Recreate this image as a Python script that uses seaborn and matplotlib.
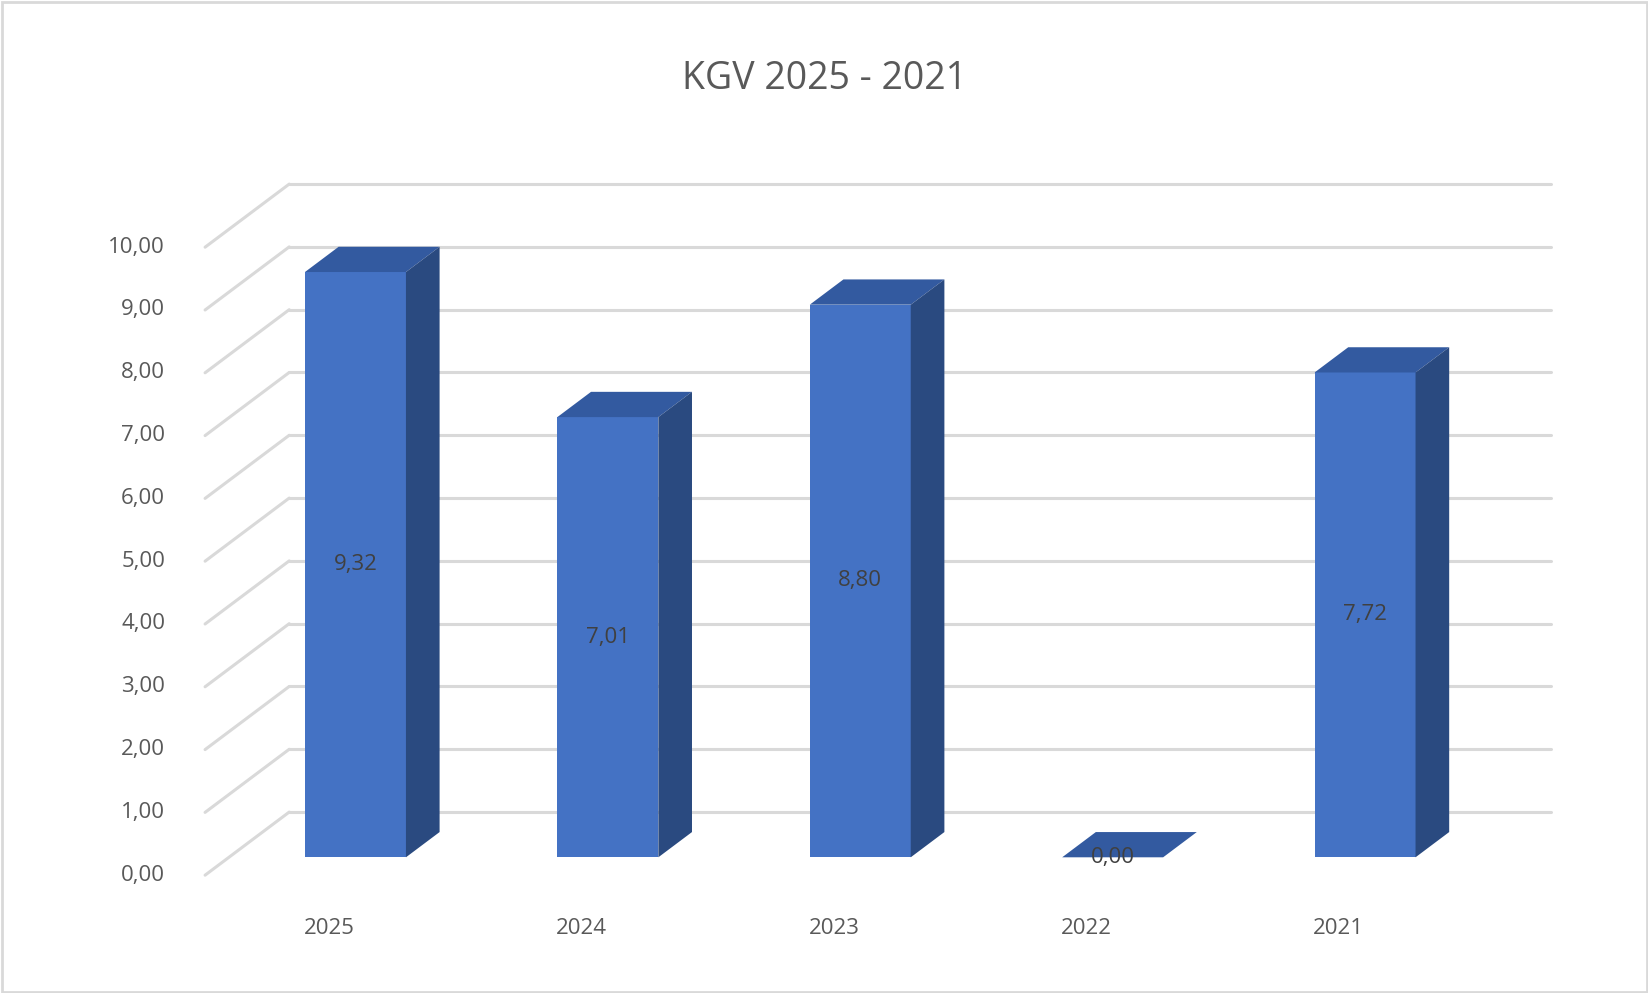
import matplotlib
matplotlib.use("Agg")
import matplotlib.pyplot as plt
import seaborn as sns
import pandas as pd
from matplotlib.patches import Polygon, Rectangle

years = ["2025", "2024", "2023", "2022", "2021"]
values = [9.32, 7.01, 8.80, 0.00, 7.72]
ytick_vals = [0, 1, 2, 3, 4, 5, 6, 7, 8, 9, 10]
title = "KGV 2025 - 2021"

sns.set_theme(style="white")
plt.rcParams['font.family'] = ['Open Sans', 'DejaVu Sans']
TXT = "#595959"
W, H = 1568, 944
fig = plt.figure(figsize=(16.49, 9.93), dpi=100)
ax = fig.add_axes([218 / W, (H - 815) / H, 1200 / W, 597 / H])
PX, PY = 240.0, 59.7  # pixels per data unit

df = pd.DataFrame({"year": years, "val": values})
sns.barplot(data=df, x="year", y="val", color="#4472C4", width=0.4, saturation=1,
            ax=ax, zorder=3, edgecolor="none")
ax.set_xlim(-0.5, 4.5)
ax.set_ylim(0, 10)
ax.axis("off")

gc = "#D9D9D9"
bx0, bx1 = (275 - 338) / PX, (1475 - 338) / PX
fx = (195 - 338) / PX
for v in ytick_vals:
    yb = v + 43 / PY
    yf = v - 17 / PY
    ax.plot([bx0, bx1], [yb, yb], color=gc, lw=2.2, clip_on=False, zorder=1)
    ax.plot([fx, bx0], [yf, yb], color=gc, lw=2.2, clip_on=False, zorder=1)
    ax.text((157 - 338) / PX, yf, f"{v:.2f}".replace(".", ","), ha="right", va="center",
            fontsize=16, color=TXT, clip_on=False)

ddx, ddy = 32 / PX, 24 / PY
hw = 0.2
for i, (yr, v) in enumerate(zip(years, values)):
    l, r = i - hw, i + hw
    top = [(l, v), (r, v), (r + ddx, v + ddy), (l + ddx, v + ddy)]
    ax.add_patch(Polygon(top, closed=True, fc="#335AA0", ec="none", zorder=4, clip_on=False))
    if v > 0:
        side = [(r, 0), (r + ddx, ddy), (r + ddx, v + ddy), (r, v)]
        ax.add_patch(Polygon(side, closed=True, fc="#2A4A80", ec="none", zorder=4, clip_on=False))
    ax.text(i, v / 2, f"{v:.2f}".replace(".", ","), ha="center", va="center",
            fontsize=16, color="#404040", zorder=6)
    ax.text(i - 25 / PX, -68 / PY, yr, ha="center", va="center", fontsize=16,
            color=TXT, clip_on=False)

fig.text(784 / W, 1 - 75 / H, title, ha="center", va="center", fontsize=27, color=TXT)
fig.add_artist(Rectangle((0.001, 0.001), 0.998, 0.997, transform=fig.transFigure,
                         fill=False, ec="#D9D9D9", lw=2))
fig.savefig("out.png", dpi=100, facecolor="white")
